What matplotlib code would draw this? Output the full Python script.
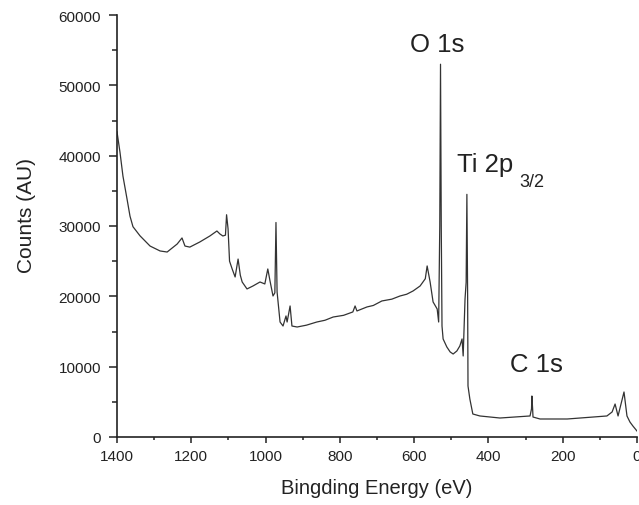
import matplotlib.pyplot as plt
from matplotlib.ticker import MultipleLocator

# XPS survey spectrum
energy = [1400, 1392, 1384, 1373, 1365, 1357, 1338, 1311, 1284, 1265, 1238,
          1225, 1217, 1204, 1177, 1150, 1131, 1123, 1115, 1108,
          1105, 1101, 1097, 1090, 1082, 1074, 1068, 1063, 1050, 1034, 1015, 1002,
          994, 988, 980, 975, 972, 969, 961, 953, 945, 942, 934, 929, 915, 890,
          862, 840, 818, 790, 765, 759, 754, 727, 710, 692, 687, 660, 638, 620,
          603, 584, 570, 565, 557, 549, 538, 534, 531, 529, 527, 525, 522, 512,
          503, 495, 485, 477, 471, 468, 463, 460, 458, 456, 455, 450, 442, 423,
          369, 288, 284, 283, 281, 280, 261, 188, 81, 67, 59, 51, 35, 27, 19, 11, 0]
counts = [43400, 40500, 37100, 33840, 31400, 29900, 28600, 27150, 26450, 26300, 27440,
          28300, 27150, 27000, 27730, 28580, 29290, 28870, 28580, 28700,
          31600, 29600, 25000, 23900, 22750, 25300, 23000, 22040, 21050, 21470, 22040, 21760,
          23890, 22180, 20050, 20500, 30500, 20620, 16350, 15780, 17210, 16350, 18630, 15780, 15640, 15900,
          16350, 16600, 17060, 17300, 17780, 18630, 17920, 18490, 18700, 19200, 19340, 19600, 20050, 20300,
          20760, 21470, 22500, 24320, 22040, 19200, 18200, 16350, 30000, 53000, 30000, 15780, 13940, 12800,
          12090, 11800, 12230, 12940, 13940, 11520, 19620, 22000, 34500, 20000, 7250, 5400, 3270, 2990,
          2700, 2990, 4000, 5830, 4000, 2840, 2560, 2560, 2990, 3560, 4690, 2990, 6400, 2990, 2130, 1560, 850]

plt.rcParams['font.family'] = ['Liberation Sans', 'DejaVu Sans']

fig = plt.figure(figsize=(6.39, 5.06), dpi=100)
ax = fig.add_axes([117 / 639, 68 / 506, 520 / 639, 422 / 506])

ax.plot(energy, counts, color='#333333', lw=0.9)

ax.set_xlim(1400, 0)
ax.set_ylim(0, 60000)
ax.xaxis.set_major_locator(MultipleLocator(200))
ax.xaxis.set_minor_locator(MultipleLocator(100))
ax.yaxis.set_major_locator(MultipleLocator(10000))
ax.yaxis.set_minor_locator(MultipleLocator(5000))

for s in ['top', 'right']:
    ax.spines[s].set_visible(False)
for s in ['left', 'bottom']:
    ax.spines[s].set_linewidth(1.2)
    ax.spines[s].set_color('#222222')
ax.tick_params(which='both', direction='out', width=1.1, colors='#222222', labelsize=11)
ax.tick_params(axis='x', which='major', length=4, pad=5)
ax.tick_params(axis='x', which='minor', length=2.5)
ax.tick_params(axis='y', which='major', length=5.5, pad=6)
ax.tick_params(axis='y', which='minor', length=3.5)

ax.set_xlabel('Bingding Energy (eV)', fontsize=14.5, color='#222222')
ax.set_ylabel('Counts (AU)', fontsize=15, color='#222222')
ax.xaxis.set_label_coords(0.5, -0.097)
ax.yaxis.set_label_coords(-0.155, 0.527)

# peak labels
lab = dict(fontsize=18.5, ha='left', va='baseline', color='#222222')
ax.text(611, 54890, 'O 1s', **lab)
ax.text(485, 37830, 'Ti 2p', **lab)
ax.text(318, 35700, '3/2', fontsize=13, ha='left', va='baseline', color='#222222')
ax.text(342, 9390, 'C 1s', **lab)

plt.savefig('out.png', dpi=100)
